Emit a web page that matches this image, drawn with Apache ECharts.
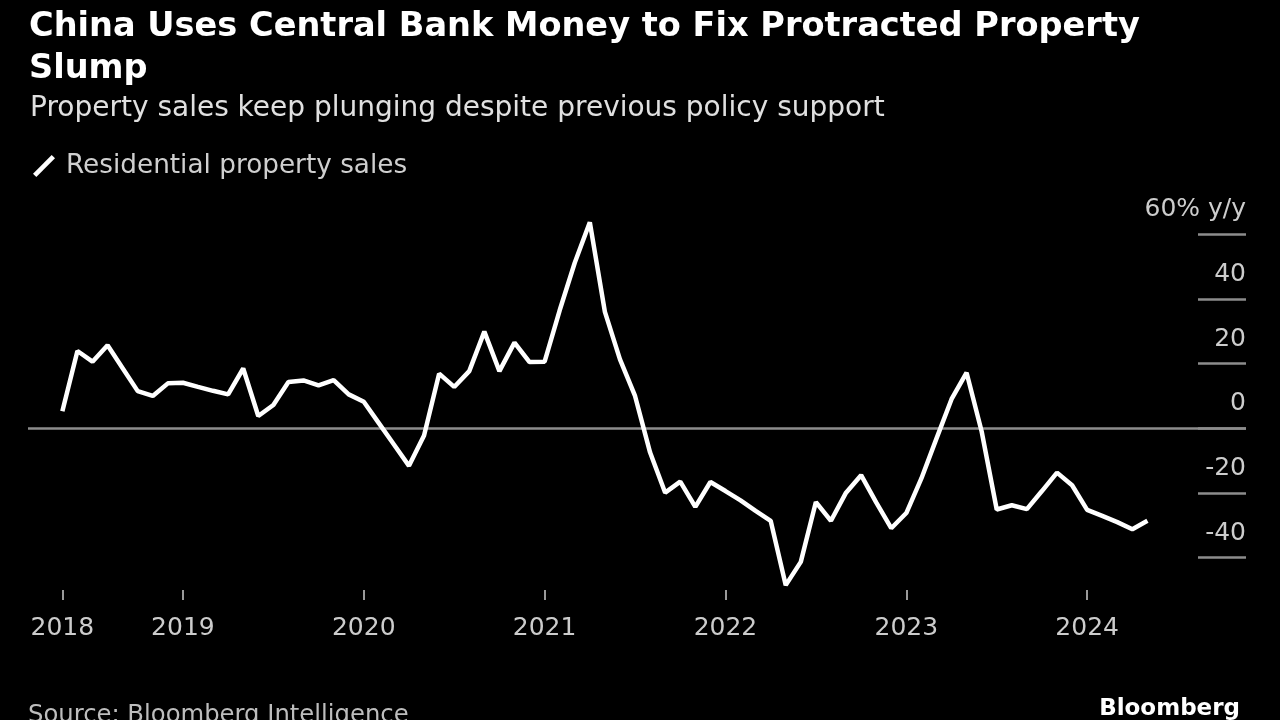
<!DOCTYPE html>
<html>
<head>
<meta charset="utf-8">
<script src="https://cdn.jsdelivr.net/npm/echarts@6/dist/echarts.min.js"></script>
<style>
html,body{margin:0;padding:0;background:#000;}
#chart{width:1280px;height:720px;}
</style>
</head>
<body>
<div id="chart"></div>
<script>
// Monthly readings, Apr 2018 .. Apr 2024 (index 0 = Apr 2018)
const salesYoY = [
  5.3, 23.9, 20.6, 25.7, 18.6, 11.5, 10.0, 13.9, 14.1,
  12.8, 11.6, 10.5, 18.5, 3.8, 7.2, 14.3, 14.8, 13.3, 14.9, 10.5, 8.2,
  1.6, -5.0, -11.6, -2.2, 16.9, 12.8, 17.7, 29.9, 17.7, 26.5, 20.5, 20.6,
  36.5, 51.2, 63.7, 36.0, 21.3, 10.0, -7.5, -19.9, -16.5, -24.3, -16.6, -19.4,
  -22.3, -25.5, -28.6, -48.5, -41.3, -22.8, -28.6, -19.9, -14.5, -22.9, -30.9, -26.2,
  -15.5, -3.2, 9.0, 17.2, -1.0, -25.1, -23.8, -25.0, -19.4, -13.7, -17.6, -25.2,
  -27.1, -29.0, -31.2, -28.6
];
const xTickIdx = [0, 8, 20, 32, 44, 56, 68];
const xTickLabels = ['2018', '2019', '2020', '2021', '2022', '2023', '2024'];
const yTicks = [-40, -20, 0, 20, 40, 60];
const seriesName = 'Residential property sales';
const titleText = 'China Uses Central Bank Money to Fix Protracted Property\nSlump';
const subtitleText = 'Property sales keep plunging despite previous policy support';
const sourceText = 'Source: Bloomberg Intelligence';

const FONT = '"DejaVu Sans", sans-serif';
const chart = echarts.init(document.getElementById('chart'));
const points = salesYoY.map((v, i) => [i, v]);

chart.setOption({
  backgroundColor: '#000',
  animation: false,
  title: [
    {
      text: titleText, left: 24, top: 1,
      textStyle: {color: '#ffffff', fontSize: 33.6, fontWeight: 'bold', lineHeight: 42, fontFamily: FONT}
    },
    {
      text: subtitleText, left: 25, top: 90,
      textStyle: {color: '#e0e0e0', fontSize: 28, fontWeight: 'normal', fontFamily: FONT}
    }
  ],
  legend: {
    left: 28, top: 148,
    itemWidth: 22, itemHeight: 22,
    icon: 'path://M0,17 L17,0 L20,3 L3,20 Z',
    textStyle: {color: '#cfcfcf', fontSize: 26.3, fontFamily: FONT, padding: [0, 0, 0, 6]},
    data: [{name: seriesName, itemStyle: {color: '#ffffff'}}]
  },
  grid: {left: 28, right: 34, top: 234.3, bottom: 130},
  xAxis: {
    type: 'value', min: -2.28, max: 78.54,
    splitLine: {show: false},
    axisLine: {show: false, onZero: false},
    axisTick: {show: true, length: 10, customValues: xTickIdx, lineStyle: {color: '#9a9a9a', width: 2}},
    axisLabel: {
      customValues: xTickIdx, margin: 26,
      color: '#cccccc', fontSize: 25, fontFamily: FONT,
      formatter: v => xTickLabels[xTickIdx.indexOf(v)] || ''
    }
  },
  yAxis: {
    type: 'value', position: 'right', min: -50, max: 60,
    splitLine: {show: false},
    axisLine: {show: false, onZero: false},
    axisTick: {show: true, inside: true, length: 48, customValues: yTicks, lineStyle: {color: '#8c8c8c', width: 2.5}},
    axisLabel: {
      customValues: yTicks, inside: true, margin: 0,
      verticalAlign: 'bottom', padding: [0, 0, 12, 0],
      color: '#cccccc', fontSize: 25, fontFamily: FONT,
      formatter: v => v === 60 ? '60% y/y' : String(v)
    }
  },
  series: [{
    name: seriesName, type: 'line', data: points,
    showSymbol: false, symbol: 'none', clip: false,
    lineStyle: {color: '#ffffff', width: 4.5},
    itemStyle: {color: '#ffffff'},
    z: 5,
    markLine: {
      silent: true, symbol: 'none', label: {show: false},
      lineStyle: {color: '#8c8c8c', width: 2.5, type: 'solid'},
      data: [{yAxis: 0}],
      z: 2
    }
  }],
  graphic: [
    {type: 'text', left: 28, top: 704,
     style: {text: sourceText, fill: '#bdbdbd', fontSize: 24.3, fontFamily: FONT}},
    {type: 'text', right: 40, top: 698,
     style: {text: 'Bloomberg', fill: '#ffffff', fontSize: 23, fontWeight: 'bold', fontFamily: FONT}}
  ]
});
</script>
</body>
</html>
